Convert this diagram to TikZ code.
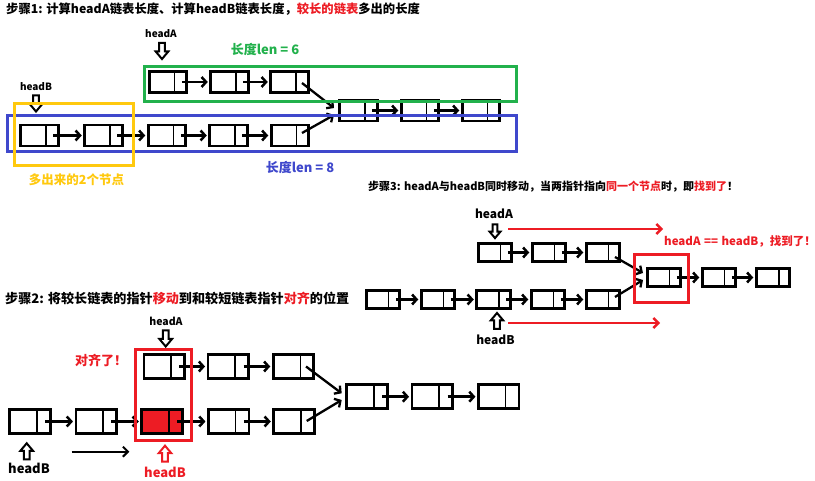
\documentclass[tikz,border=0pt]{standalone}
\usepackage{fontspec}
\setmainfont{Noto Sans CJK SC}
\usetikzlibrary{arrows.meta,calc}
\definecolor{pgreen}{RGB}{34,177,76}
\definecolor{pblue}{RGB}{63,72,204}
\definecolor{pyellow}{RGB}{255,201,14}
\definecolor{pred}{RGB}{237,28,36}
\tikzset{
  cell/.style={draw=black, line width=2.6pt, inner sep=0pt, outer sep=0pt, fill=white},
  divline/.style={line width=1.6pt},
  link/.style={line width=2.5pt, -{Straight Barb[length=4.5pt,width=10pt]}, shorten >=3pt},
  diag/.style={line width=2.3pt, -{Straight Barb[length=4.5pt,width=10pt]}},
  redarrow/.style={draw=pred, line width=2.4pt, -{Straight Barb[length=5pt,width=10pt]}},
  plainarrow/.style={line width=2pt, -{Straight Barb[length=5pt,width=10pt]}},
  frame/.style={line width=2.6pt},
  ptrline/.style={line width=2pt, line join=miter},
  dptr/.pic={\draw[ptrline] (-2.8,0) -- (2.8,0) -- (2.8,8.5) -- (6.3,8.5) -- (0,16) -- (-6.3,8.5) -- (-2.8,8.5) -- cycle;},
  lbl/.style={font=\bfseries\fontsize{#1}{#1}\selectfont, inner sep=0pt},
}
\newcommand\lnode[6]{%
  \node[cell, fill=#6, minimum width=#4pt, minimum height=#5pt] (#1) at (#2,#3) {};
  \draw[divline] ($(#1.north east)!0.33!(#1.north west)$) -- ($(#1.south east)!0.33!(#1.south west)$);}
\begin{document}
\begin{tikzpicture}[x=1pt,y=-1pt]
\fill[white] (0,0) rectangle (815,481);
\useasboundingbox (0,0) rectangle (815,481);

% ---------- Step 1 ----------
\node[lbl=12.3, anchor=west] (t1) at (6,9) {步骤1: 计算headA链表长度、计算headB链表长度，\textcolor{pred}{较长的链表}多出的长度};

\lnode{A1}{168}{82}{37.5}{21}{white}
\lnode{A2}{229.5}{82}{37.5}{21}{white}
\lnode{A3}{289.5}{82}{37.5}{21}{white}
\lnode{B1}{39.5}{135.5}{37.5}{21}{white}
\lnode{B2}{103.5}{135.5}{37.5}{21}{white}
\lnode{B3}{167}{135.5}{37.5}{21}{white}
\lnode{B4}{228.5}{135.5}{37.5}{21}{white}
\lnode{B5}{290}{135.5}{37.5}{21}{white}
\lnode{C1}{358.5}{110.5}{37.5}{21}{white}
\lnode{C2}{420}{110.5}{37.5}{21}{white}
\lnode{C3}{481}{110.5}{37.5}{21}{white}
\foreach \a/\b in {A1/A2,A2/A3,B1/B2,B2/B3,B3/B4,B4/B5,C1/C2,C2/C3}
  \draw[link] ($(\a.east)+(-5,0)$) -- (\b.west);
\draw[diag] ($(A3)+(12.5,1)$) -- ($(C1)+(-24.5,-2.5)$);
\draw[diag] ($(B5)+(12,-2.5)$) -- ($(C1)+(-24.5,4.5)$);

\node[lbl=10] (hA1) at (161,34) {headA};
\pic at (162,43) {dptr};
\node[lbl=10] (hB1) at (36,87) {headB};
\pic at (36,95.5) {dptr};

\draw[frame, pblue] (7.3,115.3) rectangle (516.7,151.7);
\draw[frame, pyellow] (14.3,103.3) rectangle (133.7,165.7);
\draw[frame, pgreen] (144.3,66.3) rectangle (516.7,101.7);

\node[lbl=13, text=pgreen] (len6) at (265,49) {长度len = 6};
\node[lbl=13, text=pblue] (len8) at (300,167) {长度len = 8};
\node[lbl=12.5, text=pyellow] (extra) at (76.5,179.5) {多出来的2个节点};

% ---------- Step 3 ----------
\node[lbl=11, anchor=west] (t3) at (368,187) {步骤3: headA与headB同时移动，当两指针指向\textcolor{pred}{同一个节点}时，即\textcolor{pred}{找到了}！};

\lnode{DA1}{495}{252.5}{33.5}{18.5}{white}
\lnode{DA2}{549}{252.5}{33.5}{18.5}{white}
\lnode{DA3}{603}{252.5}{33.5}{18.5}{white}
\lnode{E1}{664}{277.5}{33.5}{18.5}{white}
\lnode{E2}{719}{277.5}{33.5}{18.5}{white}
\lnode{E3}{773}{277.5}{33.5}{18.5}{white}
\lnode{F1}{383}{299.5}{33.5}{18.5}{white}
\lnode{F2}{438}{299.5}{33.5}{18.5}{white}
\lnode{F3}{493.5}{299.5}{33.5}{18.5}{white}
\lnode{F4}{548}{299.5}{33.5}{18.5}{white}
\lnode{F5}{603}{299.5}{33.5}{18.5}{white}
\foreach \a/\b in {DA1/DA2,DA2/DA3,E1/E2,E2/E3,F1/F2,F2/F3,F3/F4,F4/F5}
  \draw[link] ($(\a.east)+(-4,0)$) -- (\b.west);
\draw[diag] ($(DA3)+(12,4.5)$) -- ($(E1)+(-21,-4.5)$);
\draw[diag] ($(F5)+(12,-2.5)$) -- ($(E1)+(-21,2.5)$);
\draw[frame, pred] (634.3,254.3) rectangle (688.7,302.7);

\node[lbl=12] (hA3) at (494,214) {headA};
\pic[scale=0.85] at (495,224.5) {dptr};
\node[lbl=12] (hB3) at (495.5,340) {headB};
\pic[rotate=180] at (497,329) {dptr};
\coordinate (ra1) at (508,229);
\coordinate (ra2) at (663,229);
\coordinate (rb1) at (508,323);
\coordinate (rb2) at (660,323);
\draw[redarrow] (ra1) -- (ra2);
\draw[redarrow] (rb1) -- (rb2);
\node[lbl=11.5, text=pred] (found) at (740,241) {headA\hspace{0.3em}==\hspace{0.3em}headB，找到了！};

% ---------- Step 2 ----------
\node[lbl=13.1, anchor=west] (t2) at (5,298) {步骤2: 将较长链表的指针\textcolor{pred}{移动}到和较短链表指针\textcolor{pred}{对齐}的位置};

\lnode{G1}{164.2}{366.5}{40.5}{24}{white}
\lnode{G2}{228.3}{366.5}{40.5}{24}{white}
\lnode{G3}{293.5}{366.5}{40.5}{24}{white}
\lnode{H1}{367}{396.7}{40.5}{24}{white}
\lnode{H2}{432.3}{396.7}{40.5}{24}{white}
\lnode{H3}{498.7}{396.7}{40.5}{24}{white}
\lnode{I1}{30}{421.5}{40.5}{24}{white}
\lnode{I2}{96.2}{421.5}{40.5}{24}{white}
\lnode{I3}{162}{421.5}{40.5}{24}{pred}
\lnode{I4}{228.7}{421.5}{40.5}{24}{white}
\lnode{I5}{294}{421.5}{40.5}{24}{white}
\foreach \a/\b in {G1/G2,G2/G3,H1/H2,H2/H3,I1/I2,I2/I3,I3/I4,I4/I5}
  \draw[link] ($(\a.east)+(-5,0)$) -- (\b.west);
\draw[diag] ($(G3)+(12.5,0)$) -- ($(H1)+(-25.3,-3.4)$);
\draw[diag] ($(I5)+(12.7,-0.5)$) -- ($(H1)+(-25.3,3.3)$);
\draw[frame, pred] (135.3,349.3) rectangle (191.2,440.2);

\node[lbl=10.5] (hA2) at (166,321.5) {headA};
\pic at (165.7,330.5) {dptr};
\node[lbl=13, text=pred] (align) at (101,360) {对齐了！};
\pic[rotate=180] at (26.7,459.3) {dptr};
\node[lbl=13] (hB2) at (29,468) {headB};
\coordinate (mv1) at (71.7,451.7);
\coordinate (mv2) at (129.3,451.7);
\draw[plainarrow] (mv1) -- (mv2);
\pic[rotate=180, color=pred] at (165,461.7) {dptr};
\node[lbl=13, text=pred] (hB2r) at (165,472) {headB};
\end{tikzpicture}
\end{document}
